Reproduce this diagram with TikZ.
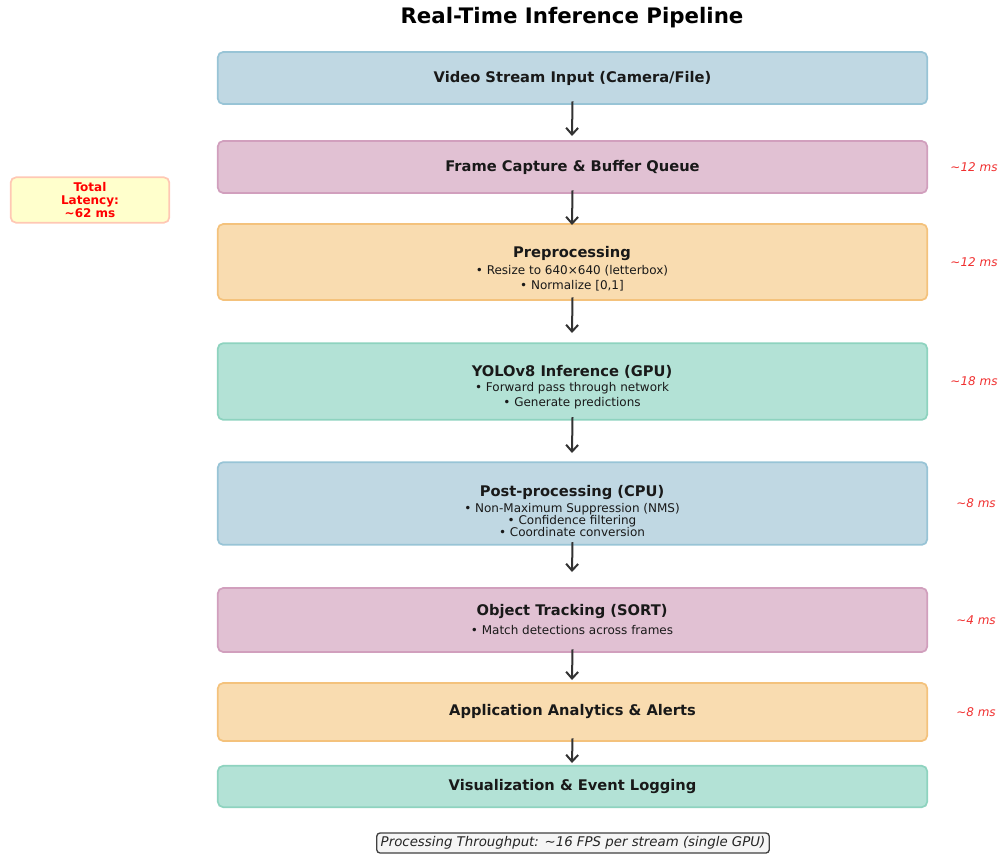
\documentclass[tikz,border=0pt]{standalone}
\usepackage{fontspec}
\setmainfont{DejaVu Sans}
\usetikzlibrary{arrows.meta}
\definecolor{bfill}{HTML}{C0D8E3}\definecolor{bdraw}{HTML}{98C4D6}
\definecolor{pfill}{HTML}{E1C1D3}\definecolor{pdraw}{HTML}{D19FBD}
\definecolor{ofill}{HTML}{F9DCB0}\definecolor{odraw}{HTML}{F4C27C}
\definecolor{gfill}{HTML}{B3E2D6}\definecolor{gdraw}{HTML}{8ED3BF}
\definecolor{arrc}{HTML}{333333}
\definecolor{latred}{HTML}{FF0000}
\definecolor{msred}{HTML}{F03030}
\tikzset{
  box/.style={draw, rounded corners=4pt, line width=1.3pt, minimum width=532pt, inner sep=0pt, font=\fontsize{11}{13}\selectfont\bfseries, text=black!90},
  blue/.style={box, fill=bfill, draw=bdraw},
  pink/.style={box, fill=pfill, draw=pdraw},
  orng/.style={box, fill=ofill, draw=odraw},
  grn/.style={box, fill=gfill, draw=gdraw},
  body/.style={align=center, inner sep=0pt, text=black!90, font=\fontsize{9}{9}\selectfont},
  ms/.style={text=msred, font=\fontsize{9}{10}\selectfont\itshape, inner sep=0pt},
  arr/.style={draw=arrc, line width=1.5pt, -{Straight Barb[length=5pt,width=9pt,line width=1.5pt]}},
}
\newcommand{\ttl}[1]{{\fontsize{11}{9}\selectfont\bfseries #1}}
\begin{document}
\begin{tikzpicture}[x=0.75pt,y=-0.75pt]
\useasboundingbox (0,0) rectangle (999,857);
\node[font=\fontsize{16}{18}\selectfont\bfseries, text=black] (title) at (572,18) {Real-Time Inference Pipeline};

\node[blue, minimum height=39pt] (b1) at (572.5,78) {Video Stream Input (Camera/File)};
\node[pink, minimum height=39pt] (b2) at (572.5,167) {Frame Capture \& Buffer Queue};
\node[orng, minimum height=57pt] (b3) at (572.5,262) {};
\node[grn, minimum height=57.5pt] (b4) at (572.5,381.5) {};
\node[blue, minimum height=62pt] (b5) at (572.5,503.5) {};
\node[pink, minimum height=48pt] (b6) at (572.5,620) {};
\node[orng, minimum height=43.5pt] (b7) at (572.5,712) {Application Analytics \& Alerts};
\node[grn, minimum height=31pt] (b8) at (572.5,786.5) {Visualization \& Event Logging};

\node[body] (t3) at (572,268.5) {\ttl{Preprocessing}\\[2.3pt] • Resize to 640×640 (letterbox)\\[2.3pt] • Normalize [0,1]};
\node[body] (t4) at (572,387.5) {\ttl{YOLOv8 Inference (GPU)}\\[2.3pt] • Forward pass through network\\[2.3pt] • Generate predictions};
\node[body] (t5) at (572,511) {\ttl{Post-processing (CPU)}\\[2.3pt] • Non-Maximum Suppression (NMS)\\ • Confidence filtering\\ • Coordinate conversion};
\node[body] (t6) at (572,619.5) {\ttl{Object Tracking (SORT)}\\[4.5pt] • Match detections across frames};

\coordinate (e1) at (572,136);
\coordinate (e2) at (572,225);
\coordinate (e3) at (572,333);
\coordinate (e4) at (572,453);
\coordinate (e5) at (572,572);
\coordinate (e6) at (572,680);
\coordinate (e7) at (572,763);
\draw[arr] ([yshift=2.6pt]b1.south) -- (e1);
\draw[arr] ([yshift=2.6pt]b2.south) -- (e2);
\draw[arr] ([yshift=2.6pt]b3.south) -- (e3);
\draw[arr] ([yshift=2.6pt]b4.south) -- (e4);
\draw[arr] ([yshift=2.6pt]b5.south) -- (e5);
\draw[arr] ([yshift=2.6pt]b6.south) -- (e6);
\draw[arr] ([yshift=2.6pt]b7.south) -- (e7);

\node[ms] (m2) at (974,167) {\textasciitilde 12 ms};
\node[ms] (m3) at (974,262) {\textasciitilde 12 ms};
\node[ms] (m4) at (974,381) {\textasciitilde 18 ms};
\node[ms] (m5) at (976,503) {\textasciitilde 8 ms};
\node[ms] (m6) at (976,620) {\textasciitilde 4 ms};
\node[ms] (m7) at (976,712) {\textasciitilde 8 ms};

\node[draw={rgb,255:red,255;green,200;blue,180}, fill={rgb,255:red,255;green,255;blue,204}, line width=1.3pt, rounded corners=4pt, minimum width=119pt, minimum height=34pt, inner sep=0pt, align=center, text=latred, font=\fontsize{9}{9.4}\selectfont\bfseries] (lat) at (90,200) {Total\\Latency:\\\textasciitilde 62 ms};

\node[draw=black!75, fill=black!4, line width=1pt, rounded corners=2.5pt, minimum height=15pt, inner xsep=3pt, inner ysep=0pt, font=\fontsize{10}{12}\selectfont\itshape, text=black!85] (thr) at (573,843) {Processing Throughput: \textasciitilde 16 FPS per stream (single GPU)};
\end{tikzpicture}
\end{document}
